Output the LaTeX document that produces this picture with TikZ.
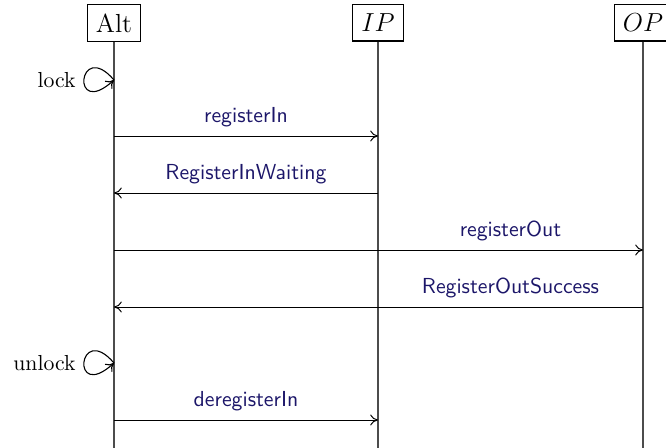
\documentclass[tikz,border=0pt]{standalone}
\usepackage{tikz}
\usetikzlibrary{arrows.meta}
\definecolor{msgblue}{RGB}{28,22,105}
\begin{document}
\begin{tikzpicture}[x=0.46pt,y=-0.46pt,
  actor/.style={draw,line width=0.5pt,inner sep=4pt,minimum height=16.6pt,font=\large},
  lifeline/.style={draw=black!70,line width=0.6pt},
  tip/.style={-{To[length=3.6pt,width=5pt]}},
  msg/.style={tip,line width=0.45pt},
  msglabel/.style={font=\sffamily,text=msgblue,inner sep=4pt},
  selfloop/.style={tip,line width=0.5pt}]
\useasboundingbox (0,0) rectangle (666,448);

% participants
\node[actor] (alt) at (114,23) {Alt};
\node[actor] (ip) at (378,23) {$IP$};
\node[actor] (op) at (643,23) {$OP$};

% lifeline ends
\coordinate (altend) at (114,448);
\coordinate (ipend) at (378,448);
\coordinate (opend) at (643,448);
\draw[lifeline] (alt.south) -- (altend);
\draw[lifeline] (ip.south) -- (ipend);
\draw[lifeline] (op.south) -- (opend);

% message heights
\coordinate (y1) at (0,136);
\coordinate (y2) at (0,193);
\coordinate (y3) at (0,250);
\coordinate (y4) at (0,307);
\coordinate (y5) at (0,420);
\coordinate (lk) at (0,80);
\coordinate (ulk) at (0,363);

% self calls on Alt
\coordinate (lockpt) at (alt |- lk);
\draw[selfloop] (lockpt) .. controls +(-36,-42) and +(-44,40) .. (lockpt);
\node[anchor=east,inner sep=0pt] (locklbl) at (76,80) {lock};

\coordinate (unlockpt) at (alt |- ulk);
\draw[selfloop] (unlockpt) .. controls +(-36,-42) and +(-44,40) .. (unlockpt);
\node[anchor=east,inner sep=0pt] (unlocklbl) at (76,363) {unlock};

% messages
\draw[msg] (alt |- y1) -- (ip |- y1) node[midway,above,msglabel] {registerIn};
\draw[msg] (ip |- y2) -- (alt |- y2) node[midway,above,msglabel] {RegisterInWaiting};
\draw[msg] (alt |- y3) -- (op |- y3);
\path (ip |- y3) -- (op |- y3) node[midway,above,msglabel] (l3) {registerOut};
\draw[msg] (op |- y4) -- (alt |- y4);
\path (ip |- y4) -- (op |- y4) node[midway,above,msglabel] (l4) {RegisterOutSuccess};
\draw[msg] (alt |- y5) -- (ip |- y5) node[midway,above,msglabel] {deregisterIn};
\end{tikzpicture}
\end{document}
